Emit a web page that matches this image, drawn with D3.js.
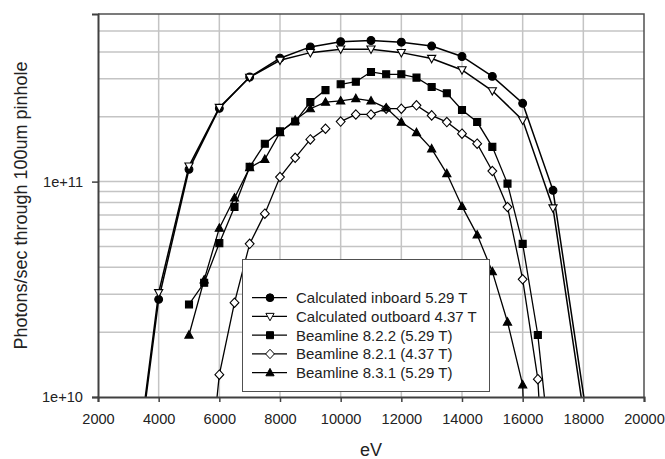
<!DOCTYPE html>
<html>
<head>
<meta charset="utf-8">
<script src="https://cdn.jsdelivr.net/npm/d3@7"></script>
<style>
  html, body { margin: 0; padding: 0; background: #fff; }
  svg { display: block; font-family: "Liberation Sans", Arial, sans-serif; }
</style>
</head>
<body>
<div id="chart"></div>
<script>
// photon flux vs energy, log y
const inboardEv = [3500, 4000, 5000, 6000, 7000, 8000, 9000, 10000, 11000, 12000, 13000, 14000, 15000, 16000, 17000, 18500];
const inboardVals = [8.1e9, 2.84e10, 1.14e11, 2.19e11, 3.06e11, 3.74e11, 4.22e11, 4.46e11, 4.52e11, 4.44e11, 4.26e11, 3.81e11, 3.08e11, 2.31e11, 9.11e10, 3.5e9];

const outboardEv = [3500, 4000, 5000, 6000, 7000, 8000, 9000, 10000, 11000, 12000, 13000, 14000, 15000, 16000, 17000, 18500];
const outboardVals = [8.6e9, 3.05e10, 1.18e11, 2.21e11, 3.05e11, 3.66e11, 3.97e11, 4.12e11, 4.12e11, 3.97e11, 3.73e11, 3.30e11, 2.64e11, 1.93e11, 7.54e10, 2.9e9];

// null = break in the line
const bl822Ev = [5000, 5500, 6000, 6500, 7000, 7500, 8000, 8500, 9000, 9500, null, 10000, 10500, 11000, 11500, 12000, 12500, 13000, 13500, 14000, 14500, 15000, 15500, 16000, 16500, 17000];
const bl822Vals = [2.69e10, 3.39e10, 5.18e10, 7.62e10, 1.17e11, 1.50e11, 1.71e11, 1.90e11, 2.34e11, 2.66e11, null, 2.83e11, 2.91e11, 3.23e11, 3.15e11, 3.15e11, 3.04e11, 2.75e11, 2.57e11, 2.15e11, 1.89e11, 1.45e11, 9.79e10, 5.14e10, 1.94e10, 4.2e9];

const bl821Ev = [5500, 6000, 6500, 7000, 7500, 8000, 8500, 9000, 9500, null, 10000, 10500, 11000, 11500, 12000, 12500, 13000, 13500, 14000, 14500, 15000, 15500, 16000, 16500, 17000];
const bl821Vals = [2.6e9, 1.27e10, 2.74e10, 5.14e10, 7.1e10, 1.05e11, 1.29e11, 1.57e11, 1.76e11, null, 1.90e11, 2.05e11, 2.05e11, 2.18e11, 2.18e11, 2.26e11, 2.03e11, 1.89e11, 1.67e11, 1.50e11, 1.12e11, 7.62e10, 3.52e10, 1.21e10, 7e8];

const bl831Ev = [5000, 5500, 6000, 6500, 7000, 7500, 8000, 8500, 9000, 9500, 10000, 10500, 11000, 11500, 12000, 12500, 13000, 13500, 14000, 14500, 15000, 15500, 16000, 16500];
const bl831Vals = [1.94e10, 3.50e10, 6.08e10, 8.4e10, 1.16e11, 1.27e11, 1.69e11, 1.93e11, 2.18e11, 2.34e11, 2.37e11, 2.43e11, 2.37e11, 2.20e11, 1.89e11, 1.69e11, 1.42e11, 1.09e11, 7.67e10, 5.66e10, 3.82e10, 2.23e10, 1.14e10, 1e8];

const seriesNames = [
  "Calculated inboard 5.29 T",
  "Calculated outboard 4.37 T",
  "Beamline 8.2.2 (5.29 T)",
  "Beamline 8.2.1 (4.37 T)",
  "Beamline 8.3.1 (5.29 T)"
];

const xTicks = [2000, 4000, 6000, 8000, 10000, 12000, 14000, 16000, 18000, 20000];
const yLabelTicks = [1e10, 1e11];

const width = 665, height = 459;
const margin = { top: 14, right: 21, bottom: 62, left: 98 };

const svg = d3.select("#chart").append("svg")
  .attr("width", width)
  .attr("height", height);

const x = d3.scaleLinear().domain([2000, 20000]).range([margin.left, width - margin.right]);
const y = d3.scaleLog().domain([1e10, 6e11]).range([height - margin.bottom, margin.top]);

const x0 = x.range()[0], x1 = x.range()[1];
const yb = y.range()[0], yt = y.range()[1];

svg.append("defs").append("clipPath").attr("id", "plot-clip")
  .append("rect")
  .attr("x", x0).attr("y", yt)
  .attr("width", x1 - x0).attr("height", yb - yt);

// gridlines
const grid = svg.append("g").attr("stroke", "#c4c4c4").attr("stroke-width", 1.5);
const yGrid = [];
for (let e = 10; e <= 11; e++) for (let m = 1; m <= 9; m++) {
  const v = m * Math.pow(10, e);
  if (v > 1e10 && v < 6e11) yGrid.push(v);
}
grid.selectAll("line.h").data(yGrid).join("line")
  .attr("x1", x0).attr("x2", x1)
  .attr("y1", (d) => y(d)).attr("y2", (d) => y(d));
grid.selectAll("line.v").data(xTicks.slice(1, -1)).join("line")
  .attr("y1", yt).attr("y2", yb)
  .attr("x1", (d) => x(d)).attr("x2", (d) => x(d));

// frame (top/right)
svg.append("path")
  .attr("d", `M${x0},${yt}H${x1}V${yb}`)
  .attr("fill", "none").attr("stroke", "#505050").attr("stroke-width", 1.5);

// series
const toPoints = (ev, vals) => ev.map((e, i) => (e == null ? null : [e, vals[i]]));
const series = [
  { name: seriesNames[0], pts: toPoints(inboardEv, inboardVals), shape: "circle", fill: "#000", lw: 1.5 },
  { name: seriesNames[1], pts: toPoints(outboardEv, outboardVals), shape: "down", fill: "#fff", lw: 1.5 },
  { name: seriesNames[2], pts: toPoints(bl822Ev, bl822Vals), shape: "square", fill: "#000", lw: 1.3 },
  { name: seriesNames[3], pts: toPoints(bl821Ev, bl821Vals), shape: "diamond", fill: "#fff", lw: 1.3 },
  { name: seriesNames[4], pts: toPoints(bl831Ev, bl831Vals), shape: "up", fill: "#000", lw: 1.3 }
];

const markerPath = (shape) => {
  switch (shape) {
    case "circle": return d3.symbol(d3.symbolCircle, 48)();
    case "square": return "M-3.5,-3.5H3.5V3.5H-3.5Z";
    case "diamond": return "M0,-4.7L4.4,0L0,4.7L-4.4,0Z";
    case "up": return "M0,-4.3L4.1,3.1L-4.1,3.1Z";
    case "down": return "M0,4.3L4.1,-3.1L-4.1,-3.1Z";
  }
};

const line = d3.line()
  .defined((d) => d != null)
  .x((d) => x(d[0]))
  .y((d) => y(d[1]));

const plot = svg.append("g").attr("clip-path", "url(#plot-clip)");

series.forEach((s) => {
  plot.append("path")
    .datum(s.pts)
    .attr("d", line)
    .attr("fill", "none")
    .attr("stroke", "#000")
    .attr("stroke-width", s.lw);
});

series.forEach((s) => {
  plot.append("g")
    .selectAll("path")
    .data(s.pts.filter((d) => d != null))
    .join("path")
    .attr("transform", (d) => `translate(${x(d[0])},${y(d[1])})`)
    .attr("d", markerPath(s.shape))
    .attr("fill", s.fill)
    .attr("stroke", "#000")
    .attr("stroke-width", 1.1);
});

// axes
const xAxis = d3.axisBottom(x).tickValues(xTicks).tickSize(5).tickPadding(11.5).tickFormat(d3.format("d"));
const yAxis = d3.axisLeft(y).tickValues(yLabelTicks).tickSize(6).tickPadding(9)
  .tickFormat((d) => "1e+" + Math.round(Math.log10(d)));

const gx = svg.append("g").attr("transform", `translate(0,${yb})`).call(xAxis);
const gy = svg.append("g").attr("transform", `translate(${x0},0)`).call(yAxis);

[gx, gy].forEach((g) => {
  g.select(".domain").attr("stroke", "#404040").attr("stroke-width", 2);
  g.selectAll(".tick line").attr("stroke", "#404040").attr("stroke-width", 1.5);
  g.selectAll(".tick text")
    .attr("fill", "#222")
    .style("font-size", "14.6px")
    .style("font-family", "'Liberation Sans', Arial, sans-serif");
});

// axis titles
svg.append("text")
  .attr("x", (x0 + x1) / 2)
  .attr("y", 456)
  .attr("text-anchor", "middle")
  .attr("fill", "#222")
  .style("font-size", "18px")
  .text("eV");

svg.append("text")
  .attr("transform", `translate(27,${(yt + yb) / 2}) rotate(-90)`)
  .attr("text-anchor", "middle")
  .attr("fill", "#222")
  .style("font-size", "18px")
  .text("Photons/sec through 100um pinhole");

// legend
const legend = svg.append("g");
legend.append("rect")
  .attr("x", 242.5).attr("y", 259.5)
  .attr("width", 247).attr("height", 132)
  .attr("fill", "#fff")
  .attr("stroke", "#505050")
  .attr("stroke-width", 1);

const items = legend.selectAll("g.item").data(series).join("g")
  .attr("transform", (d, i) => `translate(0,${297.7 + i * 18.75})`);

items.append("line")
  .attr("x1", 252).attr("x2", 287)
  .attr("stroke", "#000").attr("stroke-width", 1.2);

items.append("path")
  .attr("transform", "translate(270,0)")
  .attr("d", (d) => markerPath(d.shape))
  .attr("fill", (d) => d.fill)
  .attr("stroke", "#000")
  .attr("stroke-width", 1);

items.append("text")
  .attr("x", 296)
  .attr("dy", "0.36em")
  .attr("fill", "#222")
  .style("font-size", "15px")
  .text((d) => d.name);
</script>
</body>
</html>
